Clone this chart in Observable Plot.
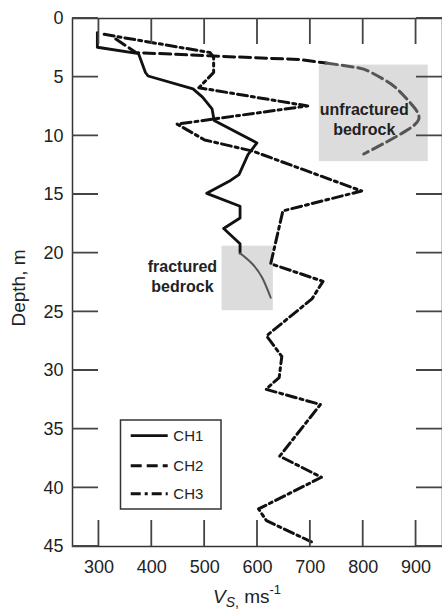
<!DOCTYPE html>
<html><head><meta charset="utf-8">
<script src="https://cdn.jsdelivr.net/npm/d3@7"></script>
<script src="https://cdn.jsdelivr.net/npm/@observablehq/plot@0.6"></script>
<style>
body{margin:0;background:#fff;}
#chart{position:relative;width:442px;height:612px;overflow:hidden;}
</style>
</head><body><div id="chart"></div>
<script>
// ---- data ----
const xTicks = [300, 400, 500, 600, 700, 800, 900];
const yTicks = [0, 5, 10, 15, 20, 25, 30, 35, 40, 45];

const ch1Depth = [1.2, 2.45, 3.0, 4.6, 4.9, 6.0, 6.7, 7.7, 8.7, 10.6, 11.6, 13.3, 13.8, 14.9, 16.0, 17.0, 17.9, 19.2, 20.0];
const ch1Vs    = [297, 297, 375, 388, 393, 478, 496, 514, 518, 599, 582, 565, 549, 504, 567, 567, 536, 567, 567];

const ch1FracDepth = [20.0, 20.9, 22.1, 23.8];
const ch1FracVs    = [567, 590, 609, 625];

const ch2Depth = [1.75, 2.9, 3.2, 3.5, 3.8];
const ch2Vs    = [332, 370, 517, 681, 730];

const ch2UnfracDepth = [3.8, 4.2, 4.6, 5.5, 6.5, 7.5, 8.6, 9.6, 10.5, 11.55];
const ch2UnfracVs    = [730, 790, 815, 850, 875, 895, 905, 880, 845, 801];

const ch3Depth = [1.35, 2.9, 3.3, 4.6, 5.9, 7.45, 9.0, 10.35, 11.3, 14.7, 16.4, 20.9, 22.4, 23.9, 27.05, 28.8, 30.6, 31.6, 32.9, 37.3, 39.1, 41.8, 42.8, 44.6];
const ch3Vs    = [310, 510, 517, 517, 489, 695, 448, 500, 591, 797, 648, 625, 724, 703, 617, 646, 641, 616, 719, 642, 721, 602, 617, 702];

const boxNames  = ["unfractured", "fractured"];
const boxVs1    = [717, 533];
const boxVs2    = [923, 630];
const boxDepth1 = [3.97, 19.4];
const boxDepth2 = [12.2, 24.9];

const noteTexts = ["unfractured\nbedrock", "fractured\nbedrock"];
const noteVs    = [802, 458];
const noteDepth = [8.55, 21.9];

const seriesNames = ["CH1", "CH2", "CH3"];

// ---- build tables ----
const toRows = (ds, vs) => ds.map((d, i) => ({d, v: vs[i]}));
const ch1 = toRows(ch1Depth, ch1Vs);
const ch1f = toRows(ch1FracDepth, ch1FracVs);
const ch2 = toRows(ch2Depth, ch2Vs);
const ch2u = toRows(ch2UnfracDepth, ch2UnfracVs);
const ch3 = toRows(ch3Depth, ch3Vs);
const boxes = boxNames.map((n, i) => ({n, x1: boxVs1[i], x2: boxVs2[i], y1: boxDepth1[i], y2: boxDepth2[i]}));
const notes = noteTexts.map((t, i) => ({t, v: noteVs[i], d: noteDepth[i]}));

const W = 442, H = 612, mL = 72, mR = 0, mT = 18, mB = 66;
const tickLen = 26;
const FONT = "'Liberation Sans', Arial, sans-serif";
const dash2 = "11,5", dash3 = "10,4,3,4";

const plot = Plot.plot({
  width: W, height: H,
  marginLeft: mL, marginRight: mR, marginTop: mT, marginBottom: mB,
  style: {fontFamily: FONT},
  x: {domain: [250, 950]},
  y: {domain: [0, 45], reverse: true},
  marks: [
    Plot.rect(boxes, {x1: "x1", x2: "x2", y1: "y1", y2: "y2", fill: "#dcdcdc"}),
    Plot.axisX(xTicks, {anchor: "bottom", tickSize: 0, tickPadding: 14, fontSize: 18, label: null, fill: "#222"}),
    Plot.axisY(yTicks, {anchor: "left", tickSize: 0, tickPadding: 9, fontSize: 18, label: null, fill: "#222"}),
    Plot.line(ch3, {x: "v", y: "d", stroke: "#111", strokeWidth: 3, strokeDasharray: dash3}),
    Plot.line(ch2, {x: "v", y: "d", stroke: "#111", strokeWidth: 3, strokeDasharray: dash2}),
    Plot.line(ch2u, {x: "v", y: "d", stroke: "#555", strokeWidth: 3, strokeDasharray: dash2, curve: "natural"}),
    Plot.line(ch1, {x: "v", y: "d", stroke: "#111", strokeWidth: 2.8}),
    Plot.line(ch1f, {x: "v", y: "d", stroke: "#555", strokeWidth: 2, curve: "natural"}),
    Plot.text(notes, {x: "v", y: "d", text: "t", fontSize: 16, fontWeight: "bold", lineHeight: 1.25, fill: "#222", textAnchor: "middle"}),
    Plot.frame({stroke: "#333", strokeWidth: 1.5})
  ]
});

document.getElementById("chart").appendChild(plot);
const svg = d3.select(plot);
const sx = plot.scale("x"), sy = plot.scale("y");
const fTop = mT, fBottom = H - mB, fLeft = mL, fRight = W - mR;

// inward ticks on all four sides, positioned through Plot's scales
const tickSegs = [];
xTicks.forEach(t => {
  const px = sx.apply(t);
  tickSegs.push([px, fBottom, px, fBottom - tickLen]);
  tickSegs.push([px, fTop, px, fTop + tickLen]);
});
yTicks.forEach(t => {
  const py = sy.apply(t);
  tickSegs.push([fLeft, py, fLeft + tickLen, py]);
  tickSegs.push([fRight, py, fRight - tickLen, py]);
});
const tickPath = tickSegs.map(s => `M${s[0]},${s[1]}L${s[2]},${s[3]}`).join("");
svg.append("path").attr("d", tickPath).attr("fill", "none")
  .style("stroke", "#444").style("stroke-width", "1.8px");

// y-axis title
svg.append("text")
  .attr("transform", "translate(18,288) rotate(-90)")
  .attr("text-anchor", "middle").attr("dominant-baseline", "central")
  .style("font-family", FONT).style("font-size", "19px").attr("fill", "#222")
  .text("Depth, m");

// x-axis title: V_S, ms^-1
const xt = svg.append("text")
  .attr("x", 213).attr("y", 603).attr("text-anchor", "start")
  .style("font-family", FONT).style("font-size", "19px").attr("fill", "#222");
xt.append("tspan").style("font-style", "italic").text("V");
xt.append("tspan").attr("dy", 4).style("font-size", "14px").style("font-style", "italic").text("S");
xt.append("tspan").style("font-size", "14px").text(",");
xt.append("tspan").attr("dy", -4).text(" ms");
xt.append("tspan").attr("dy", -9).style("font-size", "13px").text("-1");

// legend
const lg = svg.append("g");
lg.append("rect").attr("x", 120.5).attr("y", 420).attr("width", 100.5).attr("height", 89)
  .attr("fill", "#fff").attr("stroke", "#333").attr("stroke-width", 1.5);
const lgY = [435.7, 465.7, 493.7];
const lgDash = [null, dash2, dash3];
const lgW = [2.8, 3, 3];
seriesNames.forEach((name, i) => {
  lg.append("line").attr("x1", 130.7).attr("x2", 167.7).attr("y1", lgY[i]).attr("y2", lgY[i])
    .attr("stroke", "#111").attr("stroke-width", lgW[i])
    .attr("stroke-dasharray", lgDash[i]);
  lg.append("text").attr("x", 173.3).attr("y", lgY[i]).attr("dominant-baseline", "central")
    .attr("text-anchor", "start")
    .style("font-family", FONT).style("font-size", "15px").attr("fill", "#222").text(name);
});
</script></body></html>
